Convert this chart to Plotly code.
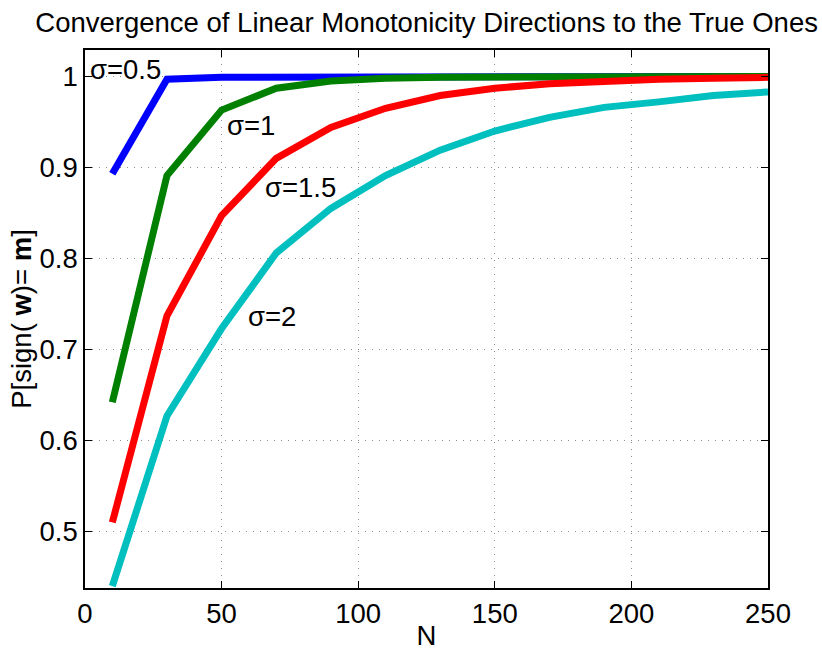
import plotly.graph_objects as go

N = [10, 30, 50, 70, 90, 110, 130, 150, 170, 190, 210, 230, 250]
p_sigma_05 = [0.893, 0.997, 0.999, 0.999, 1.0, 1.0, 1.0, 1.0, 1.0, 1.0, 1.0, 1.0, 1.0]
p_sigma_1 = [0.642, 0.891, 0.963, 0.987, 0.995, 0.998, 0.999, 0.999, 1.0, 1.0, 1.0, 1.0, 1.0]
p_sigma_15 = [0.51, 0.737, 0.847, 0.91, 0.944, 0.965, 0.979, 0.987, 0.992, 0.995, 0.997, 0.998, 0.999]
p_sigma_2 = [0.44, 0.627, 0.723, 0.806, 0.855, 0.891, 0.919, 0.94, 0.955, 0.966, 0.972, 0.979, 0.983]

series = [
    ("σ=0.5", p_sigma_05, "rgb(0,0,255)"),
    ("σ=1", p_sigma_1, "rgb(0,128,0)"),
    ("σ=1.5", p_sigma_15, "rgb(255,0,0)"),
    ("σ=2", p_sigma_2, "rgb(0,191,191)"),
]
label_text = ["σ=0.5", "σ=1", "σ=1.5", "σ=2"]
label_x = [15.0, 60.8, 78.7, 68.4]
label_y = [1.0074, 0.9458, 0.8777, 0.736]

FONT = "Liberation Sans, Arial, Helvetica"
FS = 27.5

fig = go.Figure()
for name, ys, col in series:
    fig.add_trace(go.Scatter(x=N, y=ys, mode="lines", name=name,
                             line=dict(color=col, width=7)))

for t, x, y in zip(label_text, label_x, label_y):
    fig.add_annotation(x=x, y=y, text=t, showarrow=False,
                       font=dict(size=FS, color="black", family=FONT))

# y-axis label placed as a rotated annotation (MATLAB-like position)
fig.add_annotation(xref="paper", yref="paper", x=-0.094, y=0.5,
                   xanchor="center", yanchor="middle", textangle=-90,
                   text="P[sign( <b>w</b>)= <b>m</b>]", showarrow=False,
                   font=dict(size=FS, color="black", family=FONT))

axis_common = dict(showline=True, linecolor="black", linewidth=1.5, mirror="ticks",
                   ticks="inside", ticklen=7, tickcolor="black", tickwidth=1.2,
                   showgrid=True, gridcolor="rgb(140,140,140)", griddash="1px,6px", gridwidth=1,
                   zeroline=False, automargin=False,
                   tickfont=dict(size=FS, color="black", family=FONT))

fig.update_layout(
    width=822, height=651,
    paper_bgcolor="white", plot_bgcolor="white",
    showlegend=False,
    margin=dict(l=85, r=54, t=50, b=63),
    title=dict(text="Convergence of Linear Monotonicity Directions to the True Ones",
               x=0.519, xanchor="center", y=1 - 22 / 651, yanchor="middle",
               font=dict(size=27.5, color="black", family=FONT)),
    xaxis=dict(range=[0, 250], tickvals=[0, 50, 100, 150, 200, 250],
               title=dict(text="N", standoff=0,
                          font=dict(size=FS, color="black", family=FONT)),
               **axis_common),
    yaxis=dict(range=[0.438, 1.029], tickvals=[0.5, 0.6, 0.7, 0.8, 0.9, 1.0],
               ticktext=["0.5", "0.6", "0.7", "0.8", "0.9", "1"],
               **axis_common),
)

fig.write_html("out.html", config={"displayModeBar": False},
               post_script="document.body.style.margin='0';")
